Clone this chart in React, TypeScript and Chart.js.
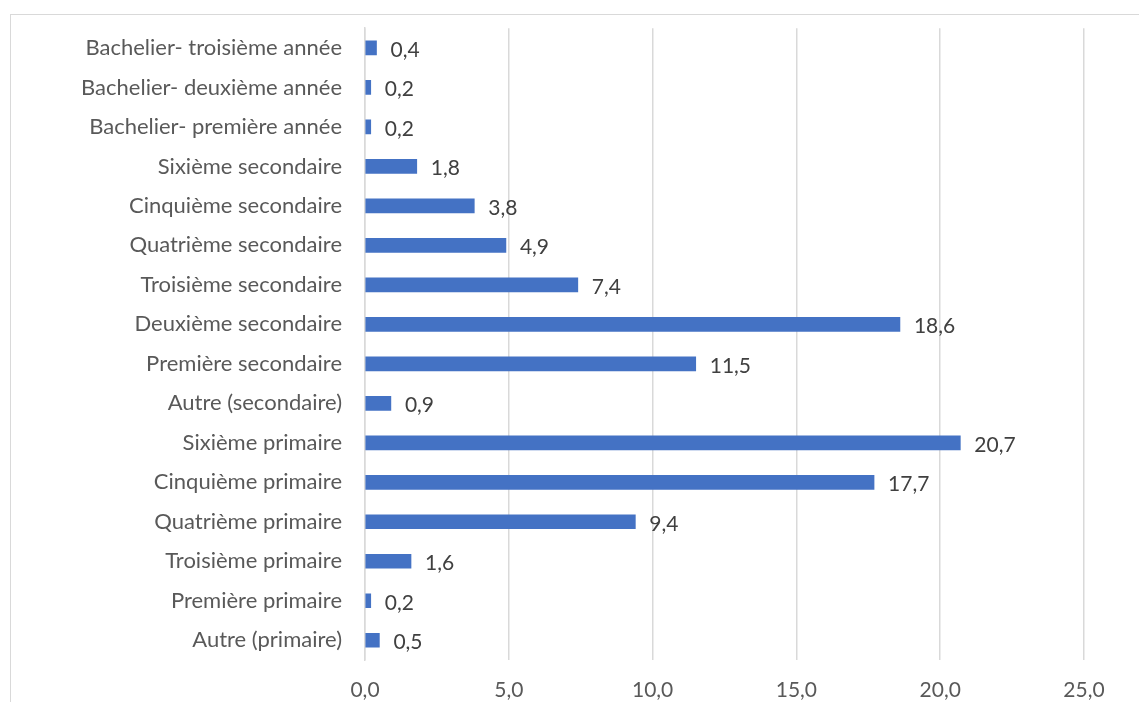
import React, { useEffect, useRef } from "react";
import { Chart, registerables } from "chart.js";

Chart.register(...registerables);

const categories: string[] = [
  "Bachelier- troisième année",
  "Bachelier- deuxième année",
  "Bachelier- première année",
  "Sixième secondaire",
  "Cinquième secondaire",
  "Quatrième secondaire",
  "Troisième secondaire",
  "Deuxième secondaire",
  "Première secondaire",
  "Autre (secondaire)",
  "Sixième primaire",
  "Cinquième primaire",
  "Quatrième primaire",
  "Troisième primaire",
  "Première primaire",
  "Autre (primaire)",
];

const values: number[] = [0.4, 0.2, 0.2, 1.8, 3.8, 4.9, 7.4, 18.6, 11.5, 0.9, 20.7, 17.7, 9.4, 1.6, 0.2, 0.5];

const xMin = 0;
const xMax = 25;
const xStep = 5;

const FONT = "Lato, 'Open Sans', sans-serif";
const fmt = (v: number) => v.toFixed(1).replace(".", ",");

const labelPlugin = {
  id: "barValueLabels",
  afterDatasetsDraw(chart: any) {
    const ctx = chart.ctx;
    const meta = chart.getDatasetMeta(0);
    ctx.save();
    ctx.font = `21px ${FONT}`;
    ctx.fillStyle = "#404040";
    ctx.textAlign = "left";
    ctx.textBaseline = "middle";
    meta.data.forEach((el: any, i: number) => {
      ctx.fillText(fmt(values[i]), el.x + 14, el.y + 2);
    });
    ctx.restore();
  },
};

export default function App() {
  const ref = useRef<HTMLCanvasElement | null>(null);
  useEffect(() => {
    document.body.style.margin = "0";
    const chart = new Chart(ref.current as HTMLCanvasElement, {
      type: "bar",
      data: {
        labels: categories,
        datasets: [
          {
            data: values,
            backgroundColor: "#4472C4",
            barThickness: 14,
          },
        ],
      },
      plugins: [labelPlugin],
      options: {
        indexAxis: "y",
        animation: false,
        responsive: false,
        maintainAspectRatio: false,
        layout: { padding: { left: 0, right: 55, top: 15, bottom: 0 } },
        plugins: { legend: { display: false }, tooltip: { enabled: false } },
        scales: {
          x: {
            min: xMin,
            max: xMax,
            ticks: {
              stepSize: xStep,
              padding: 18,
              color: "#595959",
              font: { family: FONT, size: 21 },
              callback: (v: any) => fmt(Number(v)),
            },
            grid: { color: "#d9d9d9", lineWidth: 1.5, drawTicks: false },
            border: { display: false },
            afterFit: (s: any) => {
              s.height = 42;
            },
          },
          y: {
            ticks: {
              padding: 15,
              color: "#595959",
              font: { family: FONT, size: 22 },
            },
            grid: { display: false },
            border: { display: true, color: "#d9d9d9", width: 1.5 },
            afterFit: (s: any) => {
              s.width = 365;
            },
          },
        },
      },
    });
    return () => chart.destroy();
  }, []);
  return (
    <div style={{ position: "relative", width: 1139, height: 702, overflow: "hidden", background: "#fff" }}>
      <div
        style={{
          position: "absolute",
          left: 10,
          top: 14,
          width: 1200,
          height: 800,
          border: "1px solid #d9d9d9",
        }}
      />
      <canvas ref={ref} width={1139} height={702} style={{ position: "absolute", left: 0, top: 0 }} />
    </div>
  );
}
